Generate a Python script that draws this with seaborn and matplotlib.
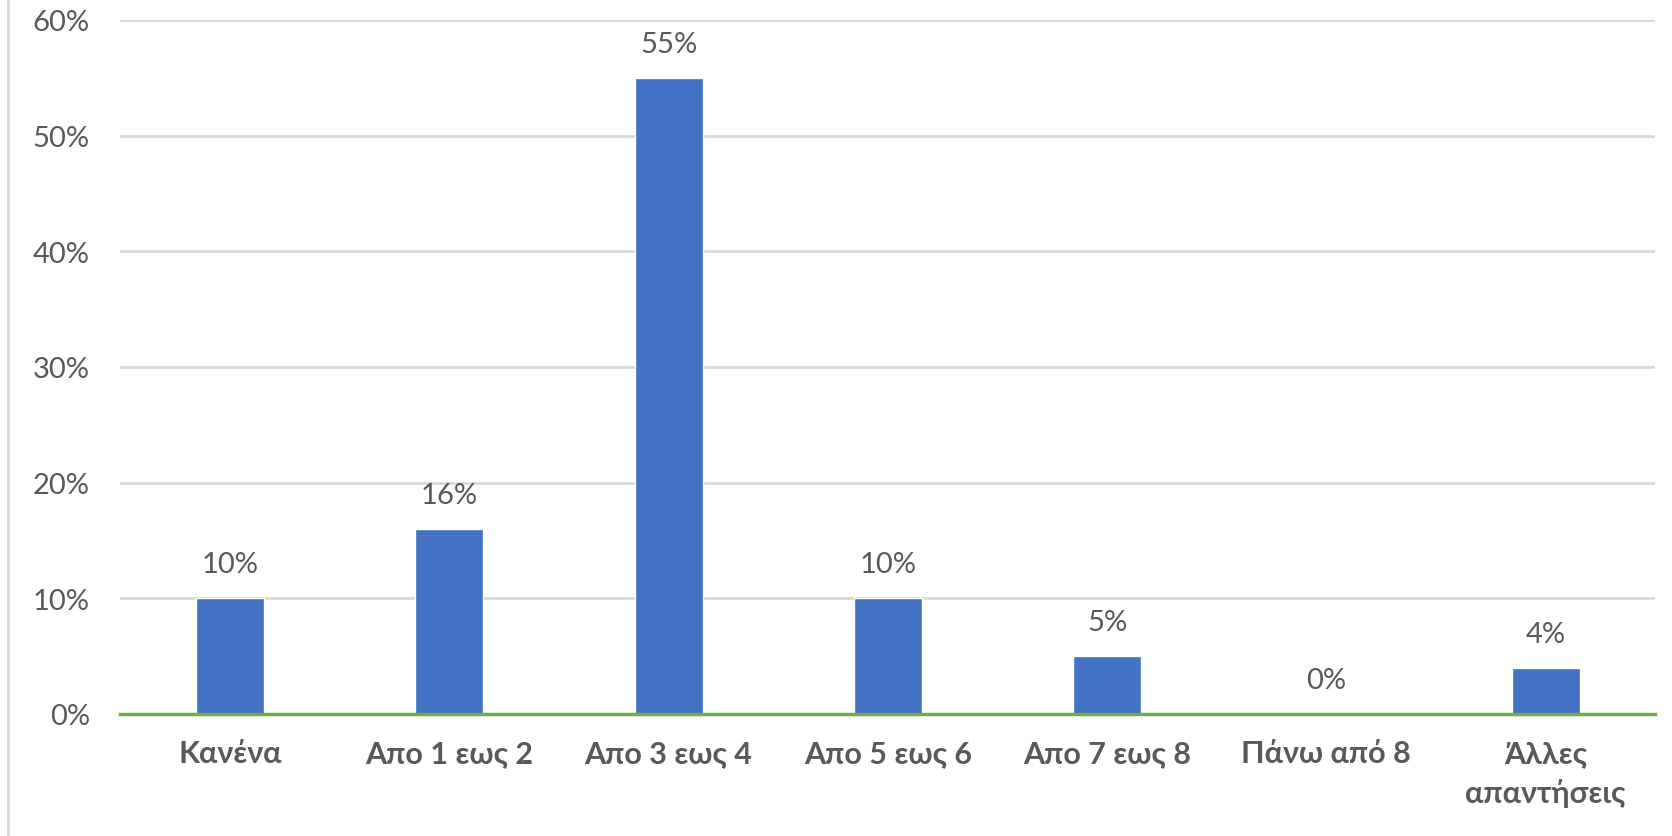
import matplotlib
matplotlib.use("Agg")
import matplotlib.pyplot as plt
import seaborn as sns
import pandas as pd
from matplotlib.lines import Line2D
from matplotlib.ticker import FuncFormatter

categories = ["Κανένα", "Απο 1 εως 2", "Απο 3 εως 4", "Απο 5 εως 6",
              "Απο 7 εως 8", "Πάνω από 8", "Άλλες\nαπαντήσεις"]
values = [10, 16, 55, 10, 5, 0, 4]
yticks = [0, 10, 20, 30, 40, 50, 60]

df = pd.DataFrame({"cat": categories, "val": values})

sns.set_theme(style="white")
plt.rcParams['font.family'] = ['Lato', 'DejaVu Sans']

fig = plt.figure(figsize=(16.72, 8.37), dpi=100)
ax = fig.add_axes([0.072, 0.146, 0.918, 0.829])

sns.barplot(data=df, x="cat", y="val", color="#4472C4", width=0.31,
            saturation=1, ax=ax, zorder=3)

ax.set_ylim(0, 60)
ax.set_yticks(yticks)
ax.yaxis.set_major_formatter(FuncFormatter(lambda v, p: f"{int(v)}%"))
ax.grid(axis="y", color="#D9D9D9", linewidth=2, zorder=0)
ax.set_xlabel("")
ax.set_ylabel("")
for s in ["top", "right", "left"]:
    ax.spines[s].set_visible(False)
ax.spines["bottom"].set_color("#70AD47")
ax.spines["bottom"].set_linewidth(2.5)
ax.spines["bottom"].set_zorder(4)
ax.tick_params(axis="y", colors="#595959", labelsize=21, length=0, pad=22)
ax.tick_params(axis="x", colors="#595959", labelsize=22, length=0, pad=18)
for lbl in ax.get_xticklabels():
    lbl.set_fontweight("bold")
    lbl.set_linespacing(1.45)
    lbl.set_verticalalignment("top")

for i, v in enumerate(values):
    ax.annotate(f"{v}%", (i, v), xytext=(0, 15), textcoords="offset points",
                ha="center", va="bottom", fontsize=21, color="#595959")

fig.add_artist(Line2D([0.005, 0.005], [0.0, 1.0], color="#D9D9D9",
                      linewidth=2, transform=fig.transFigure))

fig.savefig("out.png", dpi=100, facecolor="white")
